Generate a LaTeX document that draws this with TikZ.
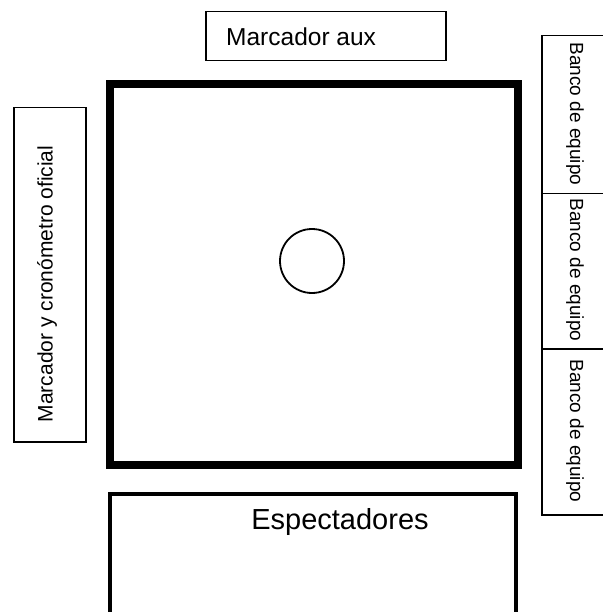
\documentclass[tikz,border=0pt]{standalone}
\usepackage{fontspec}
\setmainfont{Liberation Sans}
\usetikzlibrary{positioning}

\begin{document}
\begin{tikzpicture}[
		x=1pt,y=-1pt,
		caja/.style={
			draw,
			line width=1.5pt,
			inner sep=0pt
		},
		banco/.style={
			caja,
			minimum width=79pt,
			anchor=north west
		},
		rotulo/.style={
			inner sep=0pt,
			font=\fontsize{19}{22}\selectfont
		}
		]
		
		\useasboundingbox (0,0) rectangle (602,612);
		
		% marcador auxiliar
		\node[caja,minimum width=240pt,minimum height=49pt,anchor=north west]
		(aux) at (205,11) {};
		\node[rotulo,font=\fontsize{24.5}{28}\selectfont,anchor=west,right=21pt of aux.west]
		(auxtxt) {Marcador aux};
		
		% cancha
		\node[draw,line width=8pt,inner sep=0pt,minimum width=408pt,minimum height=381pt]
		(cancha) at (314,274.5) {};
		\node[draw,circle,line width=1.8pt,minimum size=64pt,inner sep=0pt]
		(centro) at (312,261) {};
		
		% mesa oficial
		\node[caja,minimum width=72pt,minimum height=334pt,anchor=north west]
		(mesa) at (13,107) {};
		\node[rotulo,font=\fontsize{21}{24}\selectfont,rotate=90]
		(mesatxt) at (47,284) {Marcador y cronómetro oficial};
		
		% bancos de equipo
		\node[banco,minimum height=158pt] (banco1) at (541,35) {};
		\node[banco,minimum height=155pt] (banco2) at (541,193) {};
		\node[banco,minimum height=166pt] (banco3) at (541,348) {};
		\node[rotulo,rotate=-90] (banco1txt) at (575,114) {Banco de equipo};
		\node[rotulo,rotate=-90] (banco2txt) at (575,270) {Banco de equipo};
		\node[rotulo,rotate=-90] (banco3txt) at (575,431) {Banco de equipo};
		
		% espectadores
		\node[draw,line width=4pt,inner sep=0pt,minimum width=406pt,minimum height=140pt,anchor=north]
		(gradas) at (313,492) {};
		\node[rotulo,font=\fontsize{29}{33}\selectfont]
		(gradastxt) at (340,522) {Espectadores};
		
	\end{tikzpicture}
\end{document}
